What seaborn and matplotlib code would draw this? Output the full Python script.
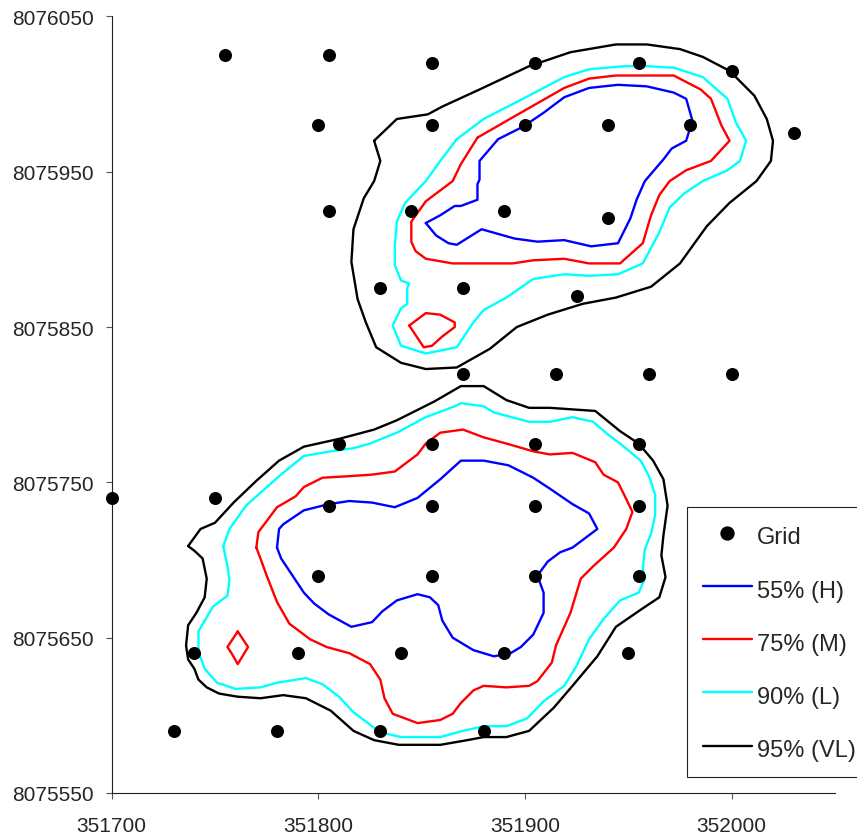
import matplotlib
matplotlib.use("Agg")
import matplotlib.pyplot as plt
from matplotlib.lines import Line2D
import seaborn as sns

# sampling grid (easting, northing)
grid_x = [351755, 351805, 351855, 351905, 351955, 352000,
          351800, 351855, 351900, 351940, 351980, 352030,
          351805, 351845, 351890, 351940,
          351830, 351870, 351925,
          351870, 351915, 351960, 352000,
          351810, 351855, 351905, 351955,
          351700, 351750, 351805, 351855, 351905, 351955,
          351800, 351855, 351905, 351955,
          351740, 351790, 351840, 351890, 351950,
          351730, 351780, 351830, 351880]
grid_y = [8076025, 8076025, 8076020, 8076020, 8076020, 8076015,
          8075980, 8075980, 8075980, 8075980, 8075980, 8075975,
          8075925, 8075925, 8075925, 8075920,
          8075875, 8075875, 8075870,
          8075820, 8075820, 8075820, 8075820,
          8075775, 8075775, 8075775, 8075775,
          8075740, 8075740, 8075735, 8075735, 8075735, 8075735,
          8075690, 8075690, 8075690, 8075690,
          8075640, 8075640, 8075640, 8075640, 8075640,
          8075590, 8075590, 8075590, 8075590]

# northern cluster
vl_top_x = [351827, 351838, 351853, 351860, 351878, 351902, 351922, 351944, 351959, 351975,
            351986, 351999, 352011, 352017, 352020, 352019, 352012, 351999, 351988, 351975,
            351961, 351944, 351928, 351911, 351896, 351883, 351867, 351852, 351840, 351828,
            351823, 351819, 351816, 351817, 351822, 351827, 351830]
vl_top_y = [8075970, 8075984, 8075987, 8075992, 8076003, 8076018, 8076027, 8076032, 8076032, 8076029,
            8076024, 8076015, 8075999, 8075984, 8075970, 8075957, 8075944, 8075930, 8075915, 8075891,
            8075876, 8075869, 8075865, 8075858, 8075850, 8075836, 8075824, 8075823, 8075827, 8075837,
            8075853, 8075868, 8075892, 8075913, 8075933, 8075944, 8075957]

l_top_x = [351867, 351880, 351899, 351919, 351931, 351948, 351959, 351972, 351986, 351998,
           352002, 352007, 352004, 351998, 351986, 351977, 351970, 351965, 351957, 351945,
           351931, 351919, 351904, 351891, 351880, 351875, 351867, 351852, 351840, 351836,
           351840, 351843, 351843, 351844, 351840, 351837, 351837, 351838, 351842, 351852, 351859]
l_top_y = [8075971, 8075984, 8075997, 8076011, 8076016, 8076018, 8076018, 8076017, 8076011, 8075997,
           8075982, 8075970, 8075957, 8075951, 8075944, 8075936, 8075927, 8075911, 8075891, 8075884,
           8075883, 8075884, 8075881, 8075869, 8075861, 8075853, 8075837, 8075833, 8075838, 8075851,
           8075862, 8075865, 8075875, 8075878, 8075880, 8075890, 8075902, 8075918, 8075930, 8075944, 8075957]

m_top_x = [351877, 351894, 351919, 351931, 351944, 351972, 351985, 351990, 351995, 351999,
           351990, 351978, 351970, 351965, 351961, 351957, 351946, 351931, 351919, 351904,
           351894, 351865, 351852, 351847, 351845, 351845, 351852, 351858, 351865, 351869]
m_top_y = [8075972, 8075985, 8076004, 8076010, 8076012, 8076012, 8076003, 8075997, 8075980, 8075970,
           8075957, 8075951, 8075944, 8075935, 8075922, 8075904, 8075891, 8075891, 8075894, 8075893,
           8075891, 8075891, 8075894, 8075899, 8075905, 8075918, 8075931, 8075937, 8075944, 8075955]

m_top2_x = [351844, 351852, 351859, 351866, 351866, 351860, 351855, 351851]
m_top2_y = [8075851, 8075859, 8075858, 8075853, 8075850, 8075844, 8075838, 8075837]

h_top_x = [351852, 351859, 351866, 351869, 351877, 351877, 351878, 351878, 351887, 351899,
           351909, 351919, 351931, 351945, 351959, 351972, 351978, 351981, 351978, 351971,
           351967, 351958, 351954, 351951, 351945, 351932, 351919, 351906, 351895, 351879,
           351867, 351863, 351857]
h_top_y = [8075917, 8075922, 8075928, 8075928, 8075932, 8075942, 8075945, 8075957, 8075971, 8075979,
           8075988, 8075998, 8076004, 8076006, 8076005, 8076001, 8075997, 8075983, 8075970, 8075965,
           8075958, 8075944, 8075932, 8075920, 8075904, 8075902, 8075906, 8075905, 8075907, 8075913,
           8075903, 8075904, 8075909]

# southern cluster
vl_bot_x = [351737, 351743, 351750, 351759, 351770, 351781, 351793, 351810, 351827, 351838,
            351856, 351869, 351880, 351891, 351902, 351912, 351934, 351946, 351955, 351962,
            351967, 351969, 351967, 351966, 351968, 351965, 351956, 351944, 351935, 351923,
            351914, 351902, 351891, 351880, 351872, 351859, 351839, 351827, 351817, 351806,
            351794, 351783, 351772, 351761, 351752, 351746, 351742, 351740, 351737, 351736,
            351737, 351741, 351745, 351746, 351744, 351740]
vl_bot_y = [8075709, 8075720, 8075724, 8075737, 8075751, 8075764, 8075773, 8075778, 8075784, 8075790,
            8075802, 8075812, 8075812, 8075803, 8075798, 8075798, 8075796, 8075783, 8075775, 8075764,
            8075752, 8075735, 8075716, 8075703, 8075689, 8075676, 8075668, 8075657, 8075638, 8075619,
            8075605, 8075590, 8075586, 8075586, 8075584, 8075581, 8075581, 8075584, 8075590, 8075603,
            8075611, 8075613, 8075611, 8075612, 8075614, 8075618, 8075623, 8075630, 8075636, 8075645,
            8075658, 8075666, 8075676, 8075688, 8075701, 8075706]

l_bot_x = [351754, 351757, 351765, 351781, 351793, 351806, 351817, 351825, 351838, 351852,
           351866, 351869, 351880, 351885, 351902, 351912, 351923, 351933, 351940, 351946,
           351956, 351960, 351963, 351963, 351961, 351958, 351957, 351958, 351955, 351946,
           351938, 351931, 351925, 351919, 351909, 351901, 351891, 351880, 351870, 351859,
           351840, 351830, 351817, 351810, 351802, 351794, 351780, 351772, 351760, 351751,
           351745, 351742, 351742, 351749, 351756, 351757, 351756]
l_bot_y = [8075709, 8075720, 8075735, 8075754, 8075767, 8075770, 8075772, 8075775, 8075782, 8075792,
           8075799, 8075801, 8075799, 8075795, 8075789, 8075789, 8075792, 8075789, 8075781, 8075775,
           8075764, 8075754, 8075742, 8075729, 8075717, 8075707, 8075694, 8075688, 8075679, 8075674,
           8075662, 8075649, 8075632, 8075619, 8075609, 8075598, 8075593, 8075593, 8075590, 8075586,
           8075586, 8075589, 8075602, 8075612, 8075620, 8075624, 8075621, 8075618, 8075617, 8075621,
           8075630, 8075641, 8075654, 8075670, 8075677, 8075687, 8075696]

m_bot_x = [351770, 351771, 351780, 351789, 351793, 351802, 351815, 351826, 351837, 351848,
           351852, 351859, 351870, 351880, 351891, 351904, 351912, 351923, 351934, 351938,
           351945, 351948, 351952, 351949, 351943, 351933, 351927, 351922, 351915, 351913,
           351906, 351902, 351891, 351880, 351875, 351869, 351865, 351859, 351848, 351836,
           351832, 351830, 351825, 351815, 351804, 351796, 351786, 351780, 351775, 351772]
m_bot_y = [8075708, 8075718, 8075734, 8075741, 8075747, 8075753, 8075754, 8075755, 8075757, 8075768,
           8075775, 8075782, 8075784, 8075779, 8075775, 8075770, 8075768, 8075769, 8075763, 8075755,
           8075750, 8075742, 8075731, 8075720, 8075708, 8075696, 8075688, 8075666, 8075645, 8075634,
           8075622, 8075619, 8075618, 8075619, 8075616, 8075608, 8075601, 8075597, 8075595, 8075601,
           8075611, 8075623, 8075633, 8075640, 8075644, 8075649, 8075659, 8075673, 8075690, 8075701]

m_bot2_x = [351761, 351766, 351761, 351758, 351756]
m_bot2_y = [8075654, 8075644, 8075633, 8075640, 8075644]

h_bot_x = [351780, 351781, 351783, 351793, 351805, 351815, 351826, 351837, 351848, 351859,
           351869, 351880, 351892, 351904, 351912, 351923, 351931, 351935, 351930, 351923,
           351917, 351911, 351906, 351909, 351909, 351904, 351898, 351893, 351885, 351875,
           351865, 351860, 351858, 351854, 351848, 351838, 351831, 351826, 351816, 351805,
           351798, 351793, 351788, 351782]
h_bot_y = [8075708, 8075720, 8075723, 8075732, 8075736, 8075738, 8075737, 8075734, 8075740, 8075752,
           8075764, 8075764, 8075761, 8075753, 8075746, 8075736, 8075730, 8075720, 8075715, 8075708,
           8075705, 8075699, 8075690, 8075679, 8075666, 8075652, 8075644, 8075640, 8075638, 8075642,
           8075650, 8075661, 8075671, 8075676, 8075678, 8075674, 8075667, 8075660, 8075657, 8075665,
           8075672, 8075679, 8075689, 8075701]

levels = ["55% (H)", "75% (M)", "90% (L)", "95% (VL)"]
level_colors = ["#0000ff", "#ff0000", "#00ffff", "#000000"]
contours = {
    "95% (VL)": [(vl_top_x, vl_top_y), (vl_bot_x, vl_bot_y)],
    "90% (L)": [(l_top_x, l_top_y), (l_bot_x, l_bot_y)],
    "75% (M)": [(m_top_x, m_top_y), (m_top2_x, m_top2_y), (m_bot_x, m_bot_y), (m_bot2_x, m_bot2_y)],
    "55% (H)": [(h_top_x, h_top_y), (h_bot_x, h_bot_y)],
}

sns.set_style("ticks")
plt.rcParams["font.family"] = ["Liberation Sans", "DejaVu Sans"]

fig = plt.figure(figsize=(8.57, 8.37), dpi=100)
ax = fig.add_axes([0.1303, 0.0514, 0.8440, 0.9277])

lw = 1.7
for lev, col in zip(levels[::-1], level_colors[::-1]):
    for xs, ys in contours[lev]:
        # close each ring
        sns.lineplot(x=xs + xs[:1], y=ys + ys[:1], sort=False, estimator=None,
                     color=col, linewidth=lw, ax=ax)

sns.scatterplot(x=grid_x, y=grid_y, s=88, color="black", linewidth=0,
                clip_on=False, zorder=5, ax=ax)

ax.set_xlim(351700, 352050)
ax.set_ylim(8075550, 8076050)
ax.set_xticks([351700, 351800, 351900, 352000])
ax.set_yticks([8075550, 8075650, 8075750, 8075850, 8075950, 8076050])
ax.ticklabel_format(useOffset=False, style="plain")
ax.set_xlabel("")
ax.set_ylabel("")
sns.despine(ax=ax)
for s in ["left", "bottom"]:
    ax.spines[s].set_color("#222222")
    ax.spines[s].set_linewidth(0.8)
ax.tick_params(axis="both", labelsize=15, length=4.5, width=0.8, color="#555555")
ax.tick_params(axis="x", pad=12)
ax.tick_params(axis="y", pad=8.4)

handles = [Line2D([], [], marker="o", color="black", linestyle="", markersize=9.3)]
handles += [Line2D([], [], color=c, linewidth=lw) for c in level_colors]
leg = ax.legend(handles, ["Grid"] + levels, loc="upper left",
                bbox_to_anchor=(0.7954, 0.3683), borderaxespad=0, fontsize=17,
                frameon=True, fancybox=False, framealpha=1, edgecolor="#222222",
                borderpad=0.66, labelspacing=1.16, handlelength=2.1,
                handleheight=1.3, handletextpad=0.2, numpoints=1)
leg.get_frame().set_linewidth(0.8)

fig.savefig("out.png", dpi=100)
